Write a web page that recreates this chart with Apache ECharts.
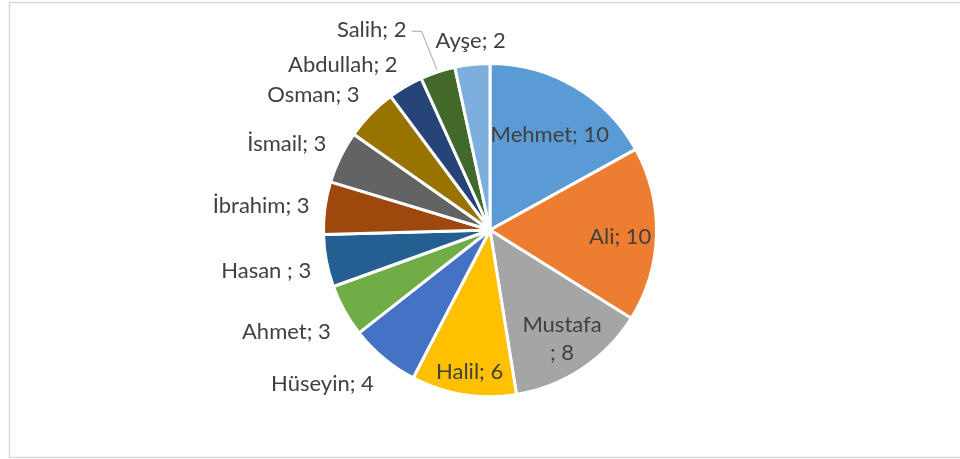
<!DOCTYPE html>
<html>
<head>
<meta charset="utf-8">
<script src="https://cdn.jsdelivr.net/npm/echarts@6/dist/echarts.min.js"></script>
<style>
html,body{margin:0;padding:0;background:#fff;}
#main{width:960px;height:459px;}
</style>
</head>
<body>
<div id="main"></div>
<script>
// ---- data ----
const names = ['Mehmet', 'Ali', 'Mustafa ', 'Halil', 'Hüseyin', 'Ahmet', 'Hasan ', 'İbrahim', 'İsmail', 'Osman', 'Abdullah', 'Salih', 'Ayşe'];
const values = [10, 10, 8, 6, 4, 3, 3, 3, 3, 3, 2, 2, 2];
const insideNames = ['Mehmet', 'Ali', 'Mustafa ', 'Halil'];
const wrappedNames = ['Mustafa '];

// ---- style ----
const colors = ['#5B9BD5', '#ED7D31', '#A5A5A5', '#FFC000', '#4472C4', '#70AD47', '#255E91', '#9E480E', '#636363', '#997300', '#264478', '#43682B', '#7CAFDD'];
const CX = 490, CY = 230, R = 168;
const labelNudge = { 'Salih': [-44, -19] };
const FONT = 'Lato';

const total = values.reduce((a, b) => a + b, 0);
const cum = [];
values.reduce((acc, v, i) => { cum[i] = acc; return acc + v; }, 0);

function clamp(v) { return Math.max(-1, Math.min(1, v)); }

const data = names.map((n, i) => {
  const inside = insideNames.indexOf(n) >= 0;
  const item = {
    name: n,
    value: values[i],
    itemStyle: { color: colors[i] },
    label: { position: inside ? 'inside' : 'outside' },
    labelLine: { show: !!labelNudge[n] }
  };
  if (wrappedNames.indexOf(n) >= 0) {
    item.label.formatter = function (p) { return p.name.trim() + '\n; ' + p.value; };
    item.label.lineHeight = 28;
  }
  return item;
});

const chart = echarts.init(document.getElementById('main'), null, { renderer: 'canvas' });
chart.setOption({
  animation: false,
  backgroundColor: '#ffffff',
  graphic: [{
    type: 'rect',
    shape: { x: 9.5, y: 2.5, width: 960, height: 455 },
    style: { fill: 'none', stroke: '#d9d9d9', lineWidth: 1.5 },
    silent: true
  }],
  series: [{
    type: 'pie',
    center: [CX, CY],
    radius: [0, R - 1.5],
    startAngle: 90,
    clockwise: true,
    avoidLabelOverlap: false,
    itemStyle: { borderColor: '#ffffff', borderWidth: 3 },
    label: {
      show: true,
      formatter: '{b}; {c}',
      fontFamily: FONT,
      fontSize: 22,
      color: '#404040',
      align: 'center'
    },
    labelLine: {
      show: false,
      length: 10,
      length2: 10,
      lineStyle: { color: '#a6a6a6', width: 1 }
    },
    emphasis: { disabled: true },
    labelLayout: function (p) {
      const i = p.dataIndex;
      const n = names[i];
      const mid = (cum[i] + values[i] / 2) / total * Math.PI * 2;
      const dx = Math.sin(mid), dy = -Math.cos(mid);
      const w = p.labelRect.width, h = p.labelRect.height;
      let x, y;
      if (insideNames.indexOf(n) >= 0) {
        const hw = w / 2, hh = Math.min(h / 2, 11);
        const b = Math.abs(dx) * hw + Math.abs(dy) * hh;
        const c = hw * hw + hh * hh - (R - 8) * (R - 8);
        const t = -b + Math.sqrt(b * b - c);
        x = CX + t * dx + 2;
        y = CY + t * dy + 3;
      } else {
        const fx = Math.sign(dx) * Math.max(0, Math.min(1, (Math.abs(dx) - 0.15) * 3));
        x = CX + (R + 14) * dx + w / 2 * fx;
        y = CY + (R + 14) * dy + h / 2 * clamp(2 * dy) + 3;
      }
      const res = { align: 'center', verticalAlign: 'middle' };
      if (labelNudge[n]) {
        x += labelNudge[n][0];
        y += labelNudge[n][1];
        const right = x + w / 2;
        res.labelLinePoints = [
          [CX + (R + 1) * dx, CY + (R + 1) * dy],
          [right + 15, y + 1],
          [right + 5, y + 1]
        ];
      }
      res.x = x;
      res.y = y;
      return res;
    },
    data: data
  }]
});
</script>
</body>
</html>
